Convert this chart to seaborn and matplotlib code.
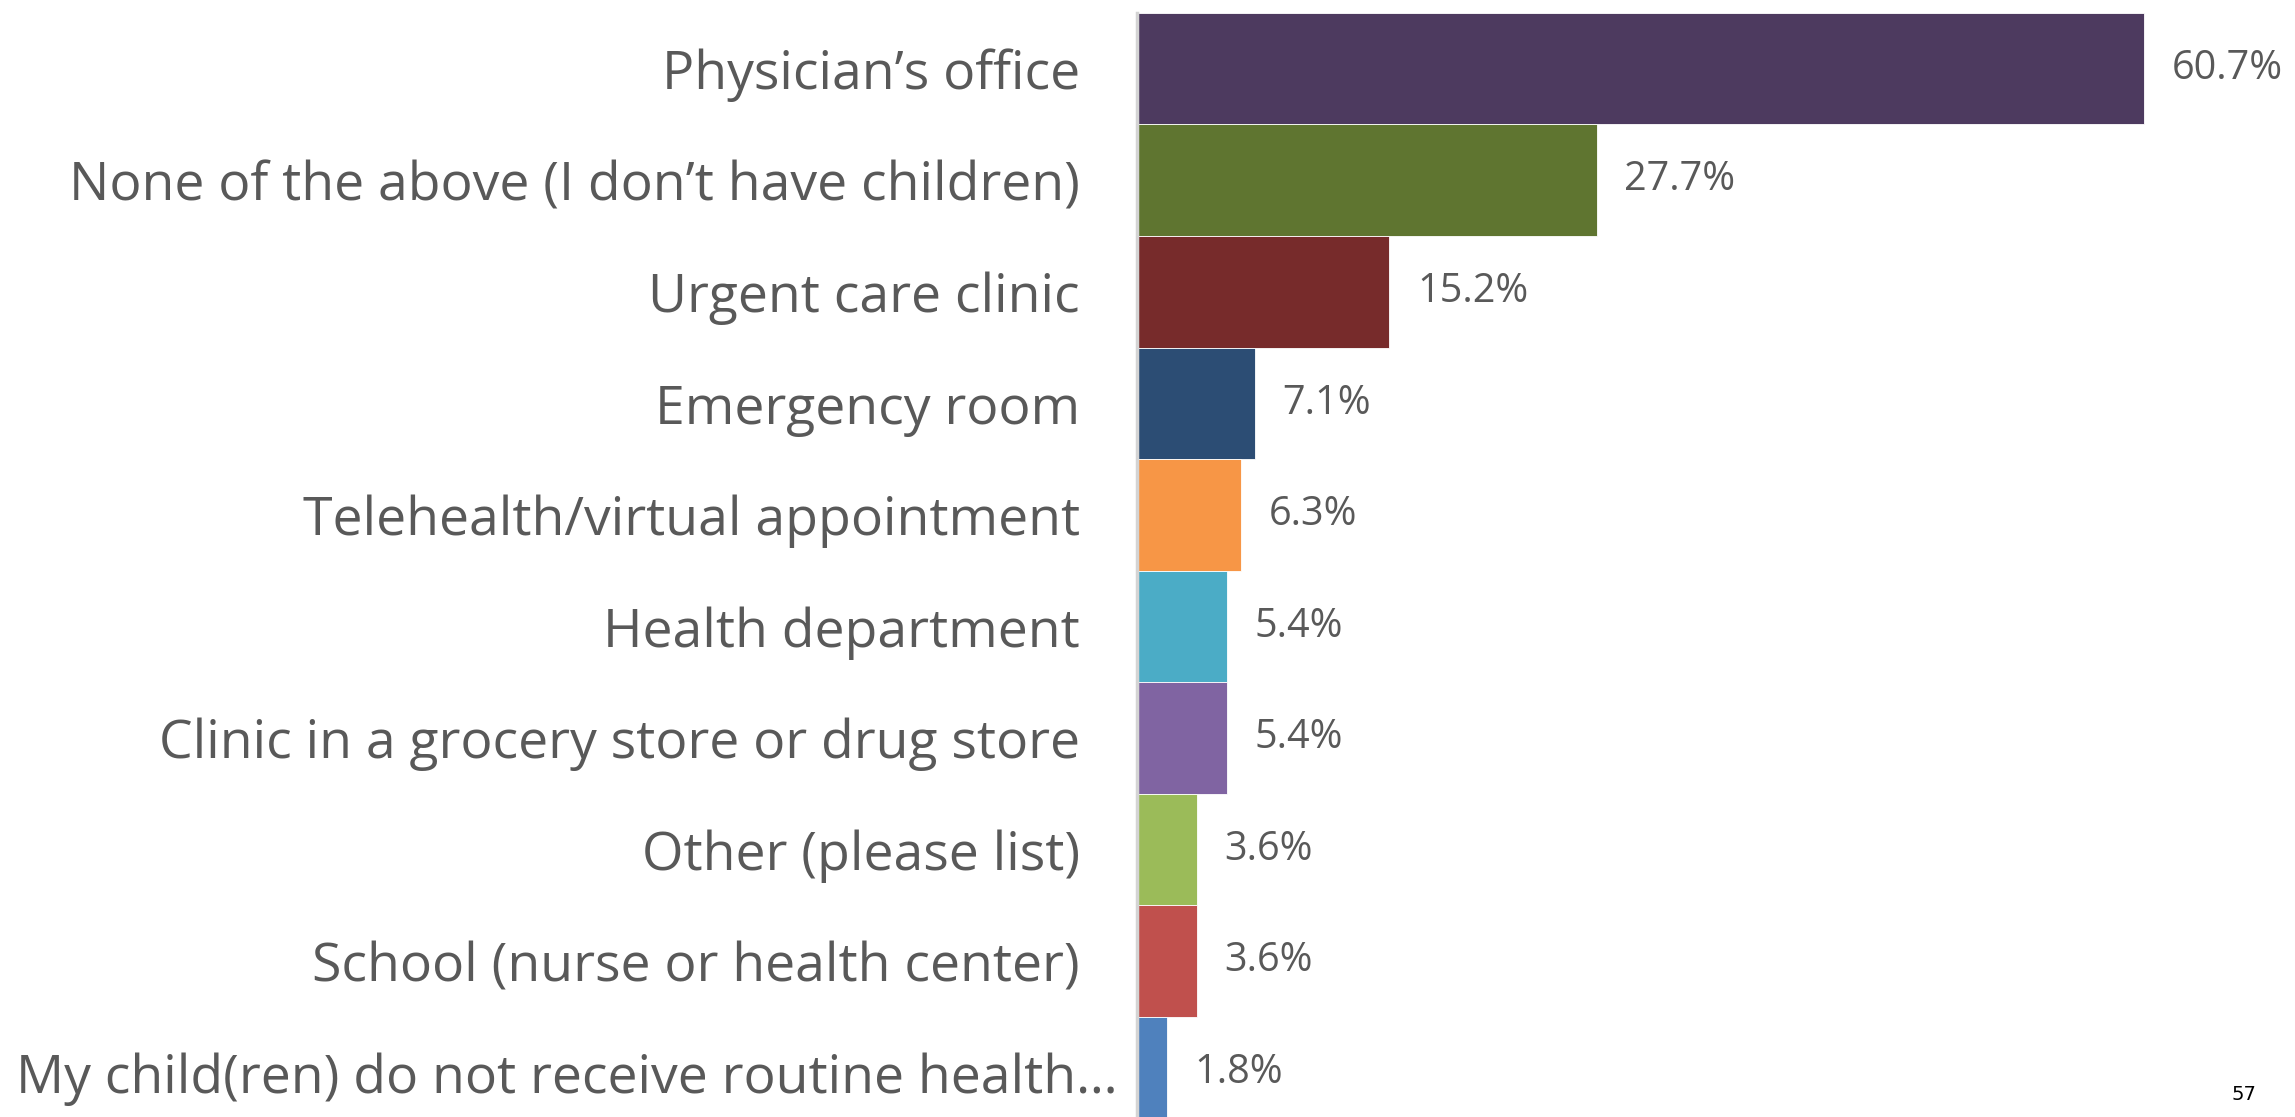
import matplotlib
matplotlib.use("Agg")
import matplotlib.pyplot as plt
import matplotlib.transforms as mtransforms
import seaborn as sns
import pandas as pd

# Where children receive routine health care (share of respondents, %)
categories = [
    "Physician’s office",
    "None of the above (I don’t have children)",
    "Urgent care clinic",
    "Emergency room",
    "Telehealth/virtual appointment",
    "Health department",
    "Clinic in a grocery store or drug store",
    "Other (please list)",
    "School (nurse or health center)",
    "My child(ren) do not receive routine health…",
]
values = [60.7, 27.7, 15.2, 7.1, 6.3, 5.4, 5.4, 3.6, 3.6, 1.8]
colors = [
    "#4D3A5F", "#5F7530", "#772B2B", "#2C4D74", "#F79646",
    "#4BACC6", "#8064A2", "#9BBB59", "#C0504D", "#4F81BD",
]
page_number = "57"

sns.set_theme(style="white")
plt.rcParams["font.family"] = ["Open Sans", "DejaVu Sans"]

df = pd.DataFrame({"category": categories, "value": values})

fig = plt.figure(figsize=(22.95, 11.17), dpi=100)
ax = fig.add_axes([0.4954, 0.0, 0.5046, 0.9884])

sns.barplot(
    data=df, x="value", y="category", hue="category",
    palette=colors, orient="h", width=1.0, legend=False,
    linewidth=0.6, edgecolor="white", saturation=1.0, ax=ax,
)

ax.set_xlim(0, 69.8)
ax.set_ylim(9.40, -0.5)
ax.set_xlabel("")
ax.set_ylabel("")
ax.set_xticks([])

for side in ("top", "right", "bottom"):
    ax.spines[side].set_visible(False)
ax.spines["left"].set_color("#D4D4D4")
ax.spines["left"].set_linewidth(2.5)
ax.spines["left"].set_zorder(5)

ax.tick_params(axis="y", length=0, pad=41, labelsize=38.5, labelcolor="#595959")

# The truncated last label sits a little closer to the axis
last = ax.get_yticklabels()[-1]
last.set_transform(last.get_transform() + mtransforms.ScaledTranslation(27 / 72, 0, fig.dpi_scale_trans))

for container in ax.containers:
    ax.bar_label(container, fmt="%.1f%%", padding=20, fontsize=28.5, color="#595959")

fig.text(0.9778, 0.0197, page_number, fontsize=14, color="black",
         family=["Liberation Sans Narrow", "DejaVu Sans"], ha="center", va="center")

fig.savefig("out.png", dpi=100)
